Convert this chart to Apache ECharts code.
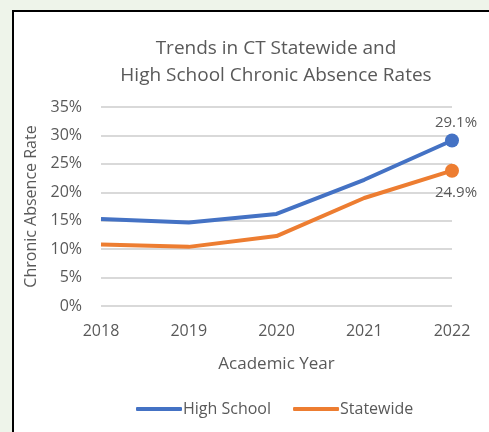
<!DOCTYPE html>
<html><head><meta charset="utf-8">
<script src="https://cdn.jsdelivr.net/npm/echarts@6/dist/echarts.min.js"></script>
<style>html,body{margin:0;padding:0;background:#eef4ea;}#c{width:489px;height:432px;}</style>
</head><body><div id="c"></div>
<script>
const years = ['2018','2019','2020','2021','2022'];
const highSchool = [15.3, 14.7, 16.2, 22.2, 29.1];
const statewide = [10.8, 10.4, 12.3, 19.0, 23.8];
const highSchoolEndLabel = '29.1%';
const statewideEndLabel = '24.9%';
const yTicks = [0, 5, 10, 15, 20, 25, 30, 35];

const F = '"Open Sans", sans-serif';
const grey = '#595959';
const chart = echarts.init(document.getElementById('c'));
function mkSeries(name, data, color, label, pos){
  return {
    name, type:'line', data: data.map((v,i)=>({
      value:v,
      symbol: i===data.length-1 ? 'circle' : 'none',
      symbolSize: 14,
      label: i===data.length-1 ? {show:true, position:pos, formatter:label, color:grey, fontFamily:F, fontSize:15, distance: pos==='top'?3:8, offset:[4,0]} : {show:false}
    })),
    showSymbol:true, color, lineStyle:{width:4, color}, itemStyle:{color},
    emphasis:{disabled:true}, animation:false
  };
}
chart.setOption({
  backgroundColor:'transparent',
  animation:false,
  graphic:[{type:'rect', z:-10, shape:{x:13, y:11, width:500, height:500}, style:{fill:'#ffffff', stroke:'#000000', lineWidth:2}}],
  title:{text:'Trends in CT Statewide and\nHigh School Chronic Absence Rates', left:271, textAlign:'center', top:30,
    textStyle:{fontFamily:F, fontSize:19, fontWeight:'normal', color:grey, lineHeight:27}},
  legend:{bottom:10, left:131, itemWidth:46, itemHeight:4, itemGap:22,
    icon:'roundRect',
    textStyle:{fontFamily:F, fontSize:16, color:grey, padding:[0,0,0,-4]},
    data:['High School','Statewide']},
  grid:{left:101, right:37, top:107, bottom:126},
  xAxis:{type:'category', data:years, boundaryGap:false,
    name:'Academic Year', nameLocation:'middle', nameGap:50,
    nameTextStyle:{fontFamily:F, fontSize:17, color:grey},
    axisLine:{show:false}, axisTick:{show:false},
    axisLabel:{fontFamily:F, fontSize:16, color:grey, margin:17}},
  yAxis:{type:'value', min:yTicks[0], max:yTicks[yTicks.length-1], interval:5,
    name:'Chronic Absence Rate', nameLocation:'middle', nameGap:57, nameRotate:90,
    nameTextStyle:{fontFamily:F, fontSize:16, color:grey},
    axisLine:{show:false}, axisTick:{show:false},
    axisLabel:{fontFamily:F, fontSize:16, color:grey, margin:19, formatter:v=>v+'%'},
    splitLine:{lineStyle:{color:'#d9d9d9', width:2}}},
  series:[
    mkSeries('High School', highSchool, '#4472c4', highSchoolEndLabel, 'top'),
    mkSeries('Statewide', statewide, '#ed7d31', statewideEndLabel, 'bottom')
  ]
});
</script></body></html>
